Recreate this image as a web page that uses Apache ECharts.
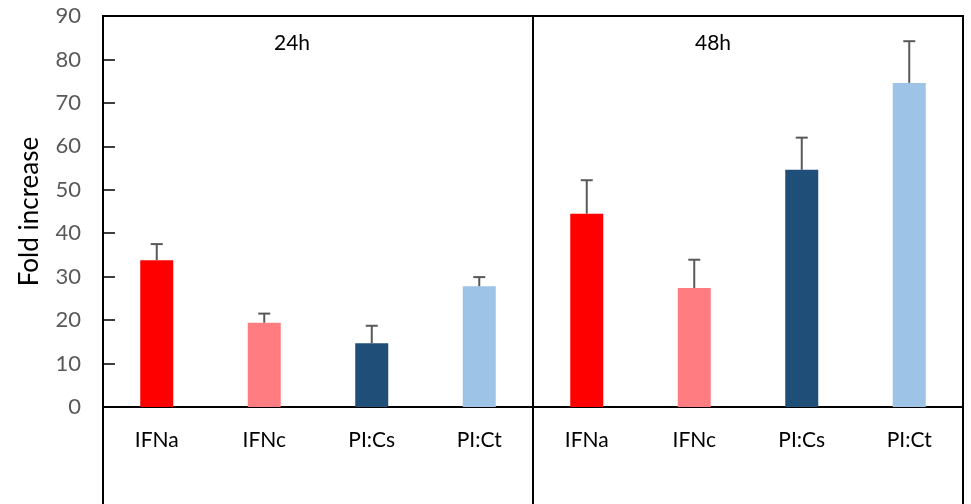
<!DOCTYPE html>
<html>
<head>
<meta charset="utf-8">
<script src="https://cdn.jsdelivr.net/npm/echarts@6/dist/echarts.min.js"></script>
<style>
html,body{margin:0;padding:0;background:#fff;}
#chart{width:971px;height:504px;}
</style>
</head>
<body>
<div id="chart"></div>
<script>
// ---- data ----
var treatments = ['IFNa', 'IFNc', 'PI:Cs', 'PI:Ct'];
var timepoints = ['24h', '48h'];
var values24h = [33.8, 19.4, 14.7, 27.8];
var values48h = [44.5, 27.4, 54.6, 74.6];
var errTop24h = [37.5, 21.5, 18.7, 29.9];
var errTop48h = [52.2, 33.9, 62.0, 84.2];
var barColors = ['#FF0000', '#FF7C80', '#1F4E79', '#9DC3E6'];
var yTicks = [0, 10, 20, 30, 40, 50, 60, 70, 80, 90];
var yTitle = 'Fold increase';

// ---- build ----
var cats = [];
var vals = [];
var errs = [];
var groups = [[values24h, errTop24h], [values48h, errTop48h]];
timepoints.forEach(function (t, ti) {
  treatments.forEach(function (c, ci) {
    cats.push(t + '|' + c);
    vals.push({ value: groups[ti][0][ci], itemStyle: { color: barColors[ci] } });
    errs.push([cats.length - 1, groups[ti][0][ci], groups[ti][1][ci]]);
  });
});

var FONT = 'Lato';
var chart = echarts.init(document.getElementById('chart'), null, { renderer: 'canvas' });
var option = {
  animation: false,
  backgroundColor: '#fff',
  grid: {
    left: 103, right: 8, top: 16, bottom: 97,
    show: true, borderColor: '#000', borderWidth: 2, backgroundColor: 'transparent'
  },
  xAxis: {
    type: 'category',
    data: cats,
    axisLine: { show: true, lineStyle: { color: '#000', width: 2 } },
    axisTick: { show: false },
    axisLabel: {
      color: '#000', fontFamily: FONT, fontSize: 21, margin: 23,
      formatter: function (v) { return v.split('|')[1]; }
    },
    splitLine: { show: false }
  },
  yAxis: {
    type: 'value',
    min: yTicks[0], max: yTicks[yTicks.length - 1], interval: yTicks[1] - yTicks[0],
    name: yTitle,
    nameLocation: 'middle',
    nameGap: 60,
    nameRotate: 90,
    nameTextStyle: { color: '#000', fontFamily: FONT, fontSize: 26 },
    axisLine: { show: true, lineStyle: { color: '#000', width: 2 } },
    axisTick: { show: true, inside: true, length: 12, lineStyle: { color: '#000', width: 1.5 } },
    axisLabel: { color: '#595959', fontFamily: FONT, fontSize: 22, margin: 22 },
    splitLine: { show: false }
  },
  series: [
    {
      type: 'bar',
      data: vals,
      barWidth: 33,
      z: 2
    },
    {
      type: 'custom',
      data: errs,
      z: 3,
      renderItem: function (params, api) {
        var x = api.value(0);
        var base = api.coord([x, api.value(1)]);
        var top = api.coord([x, api.value(2)]);
        var half = 6;
        var st = { stroke: '#595959', lineWidth: 2 };
        return {
          type: 'group',
          children: [
            { type: 'line', shape: { x1: base[0], y1: base[1], x2: top[0], y2: top[1] }, style: st },
            { type: 'line', shape: { x1: top[0] - half, y1: top[1], x2: top[0] + half, y2: top[1] }, style: st }
          ]
        };
      }
    }
  ]
};
chart.setOption(option);

// frame extensions below the axis and the divider between the two time points
var gridRect = chart.getModel().getComponent('grid').coordinateSystem.getRect();
var p3 = chart.convertToPixel({ xAxisIndex: 0 }, 3);
var p4 = chart.convertToPixel({ xAxisIndex: 0 }, 4);
var divX = Math.round((p3 + p4) / 2);
var H = 504;
var ls = { stroke: '#000', lineWidth: 2 };
chart.setOption({
  graphic: [
    { type: 'line', shape: { x1: gridRect.x, y1: gridRect.y + gridRect.height, x2: gridRect.x, y2: H }, style: ls, z: 10 },
    { type: 'line', shape: { x1: gridRect.x + gridRect.width, y1: gridRect.y + gridRect.height, x2: gridRect.x + gridRect.width, y2: H }, style: ls, z: 10 },
    { type: 'line', shape: { x1: divX, y1: gridRect.y, x2: divX, y2: H }, style: ls, z: 10 },
    { type: 'text', x: 292, y: 43, style: { text: timepoints[0], fill: '#000', font: '21px ' + FONT, textAlign: 'center', textVerticalAlign: 'middle' }, z: 10 },
    { type: 'text', x: 713, y: 43, style: { text: timepoints[1], fill: '#000', font: '21px ' + FONT, textAlign: 'center', textVerticalAlign: 'middle' }, z: 10 }
  ]
});
</script>
</body>
</html>
